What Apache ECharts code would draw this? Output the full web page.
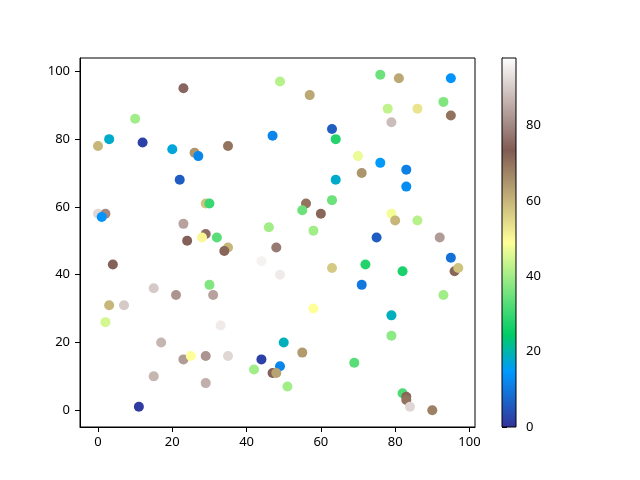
<!DOCTYPE html>
<html><head><meta charset="utf-8">
<script src="https://cdn.jsdelivr.net/npm/echarts@6/dist/echarts.min.js"></script>
<style>html,body{margin:0;padding:0;background:#fff}#c{width:640px;height:480px}</style>
</head><body><div id="c"></div>
<script>
var xs = [23,49,10,3,0,12,20,26,27,35,47,22,29,30,0,2,1,23,46,29,28,32,24,35,34,48,76,81,95,57,78,86,93,95,79,63,64,70,76,71,83,64,83,56,55,60,63,79,80,86,58,75,92,44,49,4,15,21,30,31,3,7,2,33,17,23,25,29,35,44,42,49,47,48,15,29,11,63,72,71,82,95,96,97,93,58,79,79,50,55,69,51,82,83,83,84,90];
var ys = [95,97,86,80,78,79,77,76,75,78,81,68,61,61,58,58,57,55,54,52,51,51,50,48,47,48,99,98,98,93,89,89,91,87,85,83,80,75,73,70,71,68,66,61,59,58,62,58,56,56,53,51,51,44,40,43,36,34,37,34,31,31,26,25,20,15,16,16,16,15,12,13,11,11,10,8,1,42,43,37,41,45,41,42,34,30,28,22,20,17,14,7,5,4,3,1,0];
var cs = [75,42,40,18,60,2,17,65,12,70,12,6,58,30,92,80,14,84,40,76,50,33,74,60,72,78,35,62,14,62,43,53,37,70,88,6,28,47,15,65,11,18,13,70,35,72,35,48,60,42,40,6,83,96,95,74,90,82,37,84,60,90,45,95,87,83,49,82,92,2,40,12,74,63,87,86,1,57,28,10,27,9,72,58,40,49,19,38,19,64,33,40,32,72,70,92,68];
var xTicks = [0,20,40,60,80,100];
var yTicks = [0,20,40,60,80,100];
var cbTicks = [0,20,40,60,80];
var cMin = 0, cMax = 98;

var terrain = [[0,'rgb(51,51,153)'],[0.15,'rgb(0,153,255)'],[0.25,'rgb(0,204,102)'],[0.5,'rgb(255,255,153)'],[0.75,'rgb(128,92,84)'],[1,'rgb(255,255,255)']];

function interp(f){
  for(var i=0;i<terrain.length-1;i++){
    var a=terrain[i],b=terrain[i+1];
    if(f>=a[0]&&f<=b[0]){
      var t=(f-a[0])/(b[0]-a[0]);
      var ca=a[1].match(/\d+/g).map(Number), cb=b[1].match(/\d+/g).map(Number);
      return 'rgb('+ca.map(function(v,k){return Math.round(v+(cb[k]-v)*t);}).join(',')+')';
    }
  }
  return terrain[terrain.length-1][1];
}

var data = xs.map(function(x,i){return [x, ys[i], cs[i]];});
var chart = echarts.init(document.getElementById('c'));
var font = 'Noto Sans';
var cbTop = 58, cbBottom = 427, cbLeft = 502, cbW = 14;
function lbl(){return {color:'#000',fontSize:13,margin:10,fontFamily:font};}
chart.setOption({
  animation:false,
  textStyle:{fontFamily:font},
  grid:[
    {left:80,right:165,top:58,bottom:53,show:true,borderColor:'#000',borderWidth:1,backgroundColor:'transparent'},
    {left:cbLeft,width:cbW,top:cbTop,bottom:480-cbBottom,show:true,borderColor:'#000',borderWidth:1,backgroundColor:'transparent',z:10}
  ],
  xAxis:[
    {type:'value',gridIndex:0,min:-4.85,max:101.5,splitLine:{show:false},
     axisLine:{show:true,onZero:false,lineStyle:{color:'#000'}},
     axisTick:{show:true,inside:false,length:5,customValues:xTicks,lineStyle:{color:'#000'}},
     axisLabel:Object.assign(lbl(),{customValues:xTicks,margin:9})},
    {type:'value',gridIndex:1,min:0,max:1,show:false}
  ],
  yAxis:[
    {type:'value',gridIndex:0,min:-4.95,max:103.95,splitLine:{show:false},
     axisLine:{show:true,onZero:false,lineStyle:{color:'#000'}},
     axisTick:{show:true,inside:false,length:5,customValues:yTicks,lineStyle:{color:'#000'}},
     axisLabel:Object.assign(lbl(),{customValues:yTicks})},
    {type:'value',gridIndex:1,min:cMin,max:cMax,position:'right',splitLine:{show:false},
     axisLine:{show:true,lineStyle:{color:'#000'}},
     axisTick:{show:true,inside:false,length:5,customValues:cbTicks,lineStyle:{color:'#000'}},
     axisLabel:Object.assign(lbl(),{customValues:cbTicks})}
  ],
  visualMap:{show:false,type:'continuous',min:cMin,max:cMax,dimension:2,seriesIndex:0,
    inRange:{color:(function(){var a=[];for(var i=0;i<=100;i++){a.push(interp(i/100));}return a;})()}},
  graphic:[{type:'rect',left:cbLeft,top:cbTop,shape:{width:cbW,height:cbBottom-cbTop},z:1,
    style:{fill:new echarts.graphic.LinearGradient(0,0,0,1,terrain.slice().reverse().map(function(s){return {offset:1-s[0],color:s[1]};}))}}],
  series:[{type:'scatter',xAxisIndex:0,yAxisIndex:0,data:data,symbolSize:10,itemStyle:{opacity:1}}]
});
</script></body></html>
